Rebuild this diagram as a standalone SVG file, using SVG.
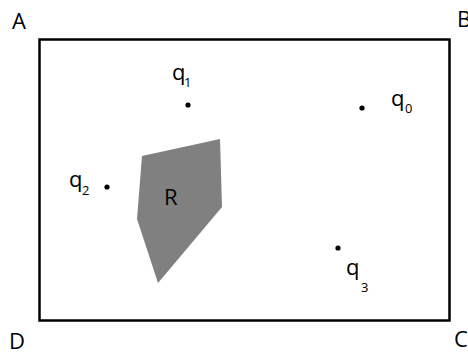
<svg xmlns="http://www.w3.org/2000/svg" width="468" height="352" viewBox="0 0 468 352">
<style>
text{font-family:"Open Sans","Liberation Sans",sans-serif;fill:#000}
.m{font-size:22px}
.s{font-size:13px}
.pt{fill:#000}
</style>
<rect width="468" height="352" fill="#fff"/>
<g id="frame">
<rect x="39.5" y="39.5" width="410" height="281" fill="none" stroke="#000" stroke-width="2.5"/>
<text class="m" x="12" y="29">A</text>
<text class="m" x="457" y="27">B</text>
<text class="m" x="454" y="347">C</text>
<text class="m" x="9" y="349">D</text>
</g>
<g id="R">
<polygon points="142,156 220,139 222,207 158,283 137,219" fill="#808080"/>
<text class="m" x="164" y="205">R</text>
</g>
<g id="q0">
<circle class="pt" cx="362" cy="108" r="2.6"/>
<text class="m" x="391" y="106">q</text><text class="s" x="405" y="113">0</text>
</g>
<g id="q1">
<circle class="pt" cx="188" cy="105" r="2.6"/>
<text class="m" x="172" y="80">q</text><text class="s" x="184" y="87">1</text>
</g>
<g id="q2">
<circle class="pt" cx="107" cy="187" r="2.6"/>
<text class="m" x="69" y="187">q</text><text class="s" x="82" y="195">2</text>
</g>
<g id="q3">
<circle class="pt" cx="338" cy="248" r="2.6"/>
<text class="m" x="346" y="275">q</text><text class="s" x="361" y="292">3</text>
</g>
<g id="connectors"/>
</svg>
